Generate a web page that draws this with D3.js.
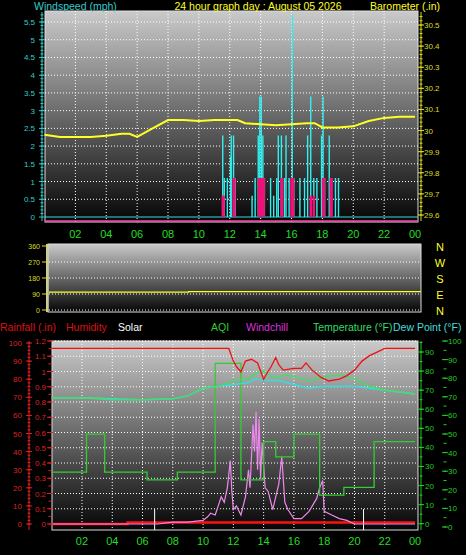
<!DOCTYPE html>
<html><head><meta charset="utf-8">
<script src="https://cdn.jsdelivr.net/npm/d3@7"></script>
<style>body{margin:0;background:#000}svg{display:block}text{font-family:"Liberation Sans",Arial,sans-serif}</style>
</head><body><svg id="c" width="466" height="555"></svg>
<script>
// ---- data ----
const hourTicks = [2,4,6,8,10,12,14,16,18,20,22,24];
const hourLabels = ["02","04","06","08","10","12","14","16","18","20","22","00"];
const baroHours = [0,1,2,3,4,5,5.5,6,7,8,9,10,11,12,12.5,13,14,15,16,17,17.5,18,19,20,21,22,23,24];
const baroValues = [29.98,29.97,29.97,29.97,29.975,29.985,29.985,29.97,30.01,30.05,30.05,30.045,30.05,30.05,30.05,30.035,30.03,30.025,30.03,30.035,30.035,30.015,30.015,30.02,30.045,30.06,30.065,30.065];
const gustHours = [11.5,11.6,11.8,12.0,12.05,12.2,12.3,13.4,13.6,13.8,13.9,14.0,14.1,14.2,14.6,14.8,15.0,15.1,15.3,15.5,15.6,15.8,16.0,16.1,16.5,16.8,17.0,17.2,17.4,17.6,17.9,18.0,18.1,18.4,18.5,18.8,19.0];
const gustValues = [2.3,1.1,1.1,1.7,2.3,2.3,1.1,0.6,1.1,2.3,3.4,3.4,2.3,1.1,1.1,0.6,1.1,2.3,2.3,1.1,2.3,1.1,5.7,1.1,1.1,1.1,2.3,3.4,1.1,1.1,2.3,3.4,1.1,2.3,1.1,1.1,1.1];
const avgHours = [11.5,11.55,12.2,12.25,13.85,13.95,14.05,14.15,15.3,15.35,15.95,16.05,17.2,17.4,18.0,18.05,18.5,18.55];
const avgValues = [0.6,0.6,1.1,1.1,1.1,1.1,1.1,1.1,1.1,1.1,1.1,1.1,0.6,0.6,1.1,1.1,1.1,1.1];
const dirHours = [0,9,9.01,24];
const dirValues = [100,100,103,103];
const humHours = [0,11.7,12,12.2,12.5,12.8,13.2,13.6,14,14.2,14.5,14.8,15,15.3,16,16.5,16.8,17.2,17.8,18.3,19,19.5,20,20.5,21,21.5,22,24];
const humValues = [97,97,90,87,84,90,91,89,80,83,87,92,88,85,86,86,89,85,81,79,80,82,85,90,93,95,97,97];
const tempHours = [0,2,4,6,8,9,10,11,12,13,13.5,14,14.5,15,15.5,16,17,18,19,20,21,22,23,24];
const tempValues = [66,66,65,65,65.5,67,71,72,75,76,79,80,77,77,78,77,75,77,78,76,72,70,69,68];
const dewHours = [0,2,4,6,8,9,10,11,12,13,13.5,14,15,16,17,18,19,20,21,22,23,24];
const dewValues = [66,66,65.5,65,65.5,67,71,72,73,74,76,75,75,73,71,72,72,72,71,70,69,68];
const aqiHours = [0,2.3,3.5,6.3,8.3,10.8,12.5,14,14.8,16,17.7,19.3,21.3,24];
const aqiValues = [27,47,27,23,27,84,23,43,35,47,15,19,43,43];
const chillHours = [0,7,8,9,10,10.3,10.5,10.8,11,11.2,11.4,11.6,11.8,11.9,12,12.2,12.5,12.8,13,13.1,13.3,13.4,13.5,13.6,13.7,13.8,13.9,14.1,14.3,14.6,15,15.2,15.4,15.6,16,16.5,17,17.5,17.7,17.9,18,18.5,19,19.5,20,24];
const chillValues = [0,0,1,1,2,4,6,5,10,15,12,20,35,18,8,10,5,15,30,20,55,40,62,30,58,25,45,20,18,8,22,37,12,8,3,3,7,14,20,24,7,5,3,2,0,0];
const rainHours = [0,5,5.01,24];
const rainValues = [0,0,0.01,0.01];
const sunMarks = [6.8,20.6];

const svg = d3.select("#c");
const grad = svg.append("defs").append("linearGradient").attr("id","g").attr("x1",0).attr("x2",0).attr("y1",0).attr("y2",1);
grad.append("stop").attr("offset","0%").attr("stop-color","#cacaca");
grad.append("stop").attr("offset","100%").attr("stop-color","#050505");

function panel(x0,x1,y0,y1){
  svg.append("rect").attr("x",x0).attr("y",y0).attr("width",x1-x0).attr("height",y1-y0).attr("fill","url(#g)").attr("stroke","#ddd").attr("stroke-width",1);
}
function gridV(x,y0,y1){hourTicks.slice(0,-1).forEach(h=>svg.append("line").attr("x1",x(h)).attr("x2",x(h)).attr("y1",y0).attr("y2",y1).attr("stroke","#fff").attr("stroke-dasharray","1,2").attr("stroke-width",1));}
function gridH(y,vals,x0,x1){vals.forEach(v=>svg.append("line").attr("x1",x0).attr("x2",x1).attr("y1",y(v)).attr("y2",y(v)).attr("stroke","#fff").attr("stroke-dasharray","1,2"));}
function txt(x,y,s,c,a,fs){return svg.append("text").attr("x",x).attr("y",y).attr("fill",c).attr("text-anchor",a||"start").attr("font-size",fs||11).text(s);}
function xLabels(x,y){hourTicks.forEach((h,i)=>txt(x(h),y,hourLabels[i],"#22dd22","middle",11));}
function axisTicks(scale,vals,xpos,color,labelX,anchor,fmt,fs,minor){
  vals.forEach(v=>{txt(labelX,scale(v)+3,fmt(v),color,anchor,fs||8);
    svg.append("line").attr("x1",xpos-3).attr("x2",xpos+3).attr("y1",scale(v)).attr("y2",scale(v)).attr("stroke",color);});
  if(minor) minor.forEach(v=>svg.append("line").attr("x1",xpos-1.5).attr("x2",xpos+1.5).attr("y1",scale(v)).attr("y2",scale(v)).attr("stroke",color));
}

// ---- top panel ----
const xT = d3.scaleLinear().domain([0,24]).range([44.5,415]);
const yW = d3.scaleLinear().domain([0,5.5]).range([217,22]);
const yB = d3.scaleLinear().domain([29.6,30.5]).range([215,25]);
panel(45,418,11,222);
gridV(xT,11,222);
gridH(yW,d3.range(0.5,5.6,0.5),45,418);
svg.append("line").attr("x1",45).attr("x2",418).attr("y1",221).attr("y2",221).attr("stroke","#ff44aa").attr("stroke-width",1.5);
svg.append("line").attr("x1",45).attr("x2",418).attr("y1",yW(0)).attr("y2",yW(0)).attr("stroke","#33dddd").attr("stroke-width",1);
gustHours.forEach((h,i)=>svg.append("rect").attr("x",xT(h)).attr("width",1.4).attr("y",yW(gustValues[i])).attr("height",yW(0)-yW(gustValues[i])).attr("fill","#33eeee"));
avgHours.forEach((h,i)=>svg.append("rect").attr("x",xT(h)-0.5).attr("width",2.5).attr("y",yW(avgValues[i])).attr("height",yW(0)-yW(avgValues[i])).attr("fill","#ee1177"));
svg.append("path").attr("d",d3.line().x((d,i)=>xT(baroHours[i])).y(d=>yB(d))(baroValues)).attr("fill","none").attr("stroke","#ffff22").attr("stroke-width",2);
axisTicks(yW,d3.range(0,5.6,0.5),42,"#33cccc",35,"end",v=>v===0?"0":(v%1===0?String(v):d3.format(".1f")(v)),8,d3.range(0.1,5.8,0.1));
svg.append("line").attr("x1",42).attr("x2",42).attr("y1",12).attr("y2",221).attr("stroke","#33cccc");
axisTicks(yB,d3.range(29.6,30.51,0.1),421,"#dddd22",424,"start",v=>{const s=d3.format(".1f")(v);return s==="30.0"?"30":s;},8,d3.range(29.6,30.55,0.02));
svg.append("line").attr("x1",421).attr("x2",421).attr("y1",12).attr("y2",221).attr("stroke","#dddd22");
xLabels(xT,238);
txt(34,9.5,"Windspeed (mph)","#33cccc","start",10.5);
txt(258,9.5,"24 hour graph day : August 05 2026","#ffff22","middle",10.5);
txt(440,9.5,"Barometer (.in)","#ffff22","end",10.5);

// ---- middle panel ----
const xM = d3.scaleLinear().domain([0,24]).range([49,421]);
const yD = d3.scaleLinear().domain([0,360]).range([310,246]);
panel(48,421,244,312);
svg.append("rect").attr("x",46).attr("y",244).attr("width",2.5).attr("height",68).attr("fill","#cccc99");
gridH(yD,[0,90,180,270],49,421);
svg.append("path").attr("d",d3.line().curve(d3.curveStepAfter).x((d,i)=>xM(dirHours[i])).y(d=>yD(d))(dirValues)).attr("fill","none").attr("stroke","#ffff22").attr("stroke-width",1.2);
axisTicks(yD,[0,90,180,270,360],45,"#dddd22",40,"end",String,7);
["N","W","S","E","N"].forEach((c,i)=>txt(440,yD(360-i*90)+5,c,"#ffff22","middle",11));

// ---- bottom panel ----
const xB = d3.scaleLinear().domain([0,24]).range([51.7,415]);
const yH = d3.scaleLinear().domain([0,100]).range([524,343]);
const yR = d3.scaleLinear().domain([0,1.2]).range([524,341]);
const yT = d3.scaleLinear().domain([0,90]).range([523.7,352]);
const yT2 = d3.scaleLinear().domain([0,100]).range([527,341]);
panel(52,418,341,530);
gridV(xB,341,530);
gridH(yR,d3.range(0.1,1.21,0.1),52,418);
const ln=(hs,col,w,curve,sc,vals)=>svg.append("path").attr("d",d3.line().curve(curve||d3.curveLinear).x((d,i)=>xB(hs[i])).y(d=>sc(d))(vals)).attr("fill","none").attr("stroke",col).attr("stroke-width",w);
ln(rainHours,"#ff1111",2.5,d3.curveStepAfter,yR,rainValues);
sunMarks.forEach(h=>svg.append("line").attr("x1",xB(h)).attr("x2",xB(h)).attr("y1",509).attr("y2",530).attr("stroke","#fff"));
ln(chillHours,"#ee88ee",1.2,d3.curveLinear,yH,chillValues);
ln(aqiHours,"#33cc33",1.3,d3.curveStepAfter,yT,aqiValues);
ln(dewHours,"#33dddd",1.5,d3.curveLinear,yT,dewValues);
ln(tempHours,"#44dd66",1.5,d3.curveLinear,yT,tempValues);
ln(humHours,"#ee1111",1.3,d3.curveLinear,yH,humValues);
axisTicks(yH,d3.range(0,101,10),29,"#dd2222",22,"end",String,8,d3.range(0,101,2));
svg.append("line").attr("x1",29).attr("x2",29).attr("y1",341).attr("y2",530).attr("stroke","#dd2222");
axisTicks(yR,d3.range(0,1.21,0.1),50,"#dd2222",46,"end",v=>v===0?"0":(Math.abs(v-1)<1e-9?"1":d3.format(".1f")(v)),8,d3.range(0,1.21,0.05));
axisTicks(yT,d3.range(0,91,10),421,"#22cc22",425,"start",String,8,d3.range(0,96,5));
svg.append("line").attr("x1",421).attr("x2",421).attr("y1",341).attr("y2",530).attr("stroke","#22cc22");
axisTicks(yT2,d3.range(0,101,10),445,"#22cc22",448,"start",String,8,d3.range(0,101,5));
xLabels(xB,545);
txt(0,331,"Rainfall (.in)","#dd1111","start",10.5);
txt(66,331,"Humidity","#dd1111","start",10.5);
txt(118,331,"Solar","#ffffff","start",10.5);
txt(211,331,"AQI","#33cc33","start",10.5);
txt(246,331,"Windchill","#dd33dd","start",10.5);
txt(313,331,"Temperature (°F)","#33dd66","start",10.5);
txt(393,331,"Dew Point (°F)","#44dddd","start",10.5);
</script></body></html>
